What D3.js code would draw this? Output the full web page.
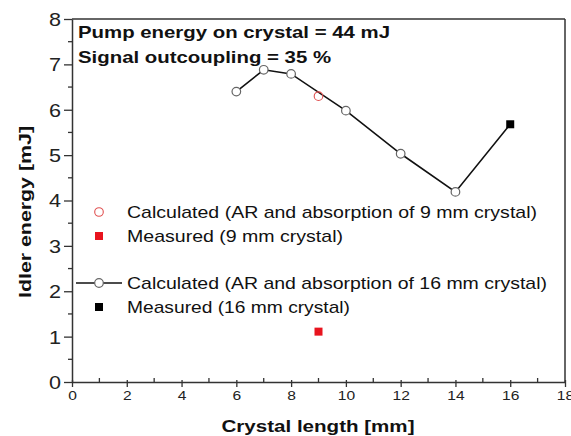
<!DOCTYPE html>
<html><head><meta charset="utf-8">
<script src="https://d3js.org/d3.v7.min.js"></script>
<style>body{margin:0;background:#fff}svg{display:block;font-family:"Liberation Sans",Arial,sans-serif}</style>
</head><body><svg id="c" width="571" height="436"></svg>
<script>
const calc16X = [6, 7, 8, 10, 12, 14, 16];
const calc16Y = [6.40, 6.88, 6.79, 5.98, 5.03, 4.19, 5.68];
const meas16X = [16];
const meas16Y = [5.68];
const calc9X = [9];
const calc9Y = [6.30];
const meas9X = [9];
const meas9Y = [1.11];
const xTicks = [0, 2, 4, 6, 8, 10, 12, 14, 16, 18];
const yTicks = [0, 1, 2, 3, 4, 5, 6, 7, 8];
const legendLabels = [
  "Calculated (AR and absorption of 9 mm crystal)",
  "Measured (9 mm crystal)",
  "Calculated (AR and absorption of 16 mm crystal)",
  "Measured (16 mm crystal)"
];
const annot = ["Pump energy on crystal = 44 mJ", "Signal outcoupling = 35 %"];

const svg = d3.select("#c");
const L = 72, R = 565, T = 19, B = 382;
const x = d3.scaleLinear().domain([0, 18]).range([L, R]);
const y = d3.scaleLinear().domain([0, 8]).range([B, T]);
const red = "#e8141e";
const SX = 1.2; // horizontal stretch of the reference's type

function stretched(sel, px, py) {
  // horizontally stretch text around its anchor point
  return sel.attr("transform", `translate(${px},${py}) scale(${SX},1)`).attr("x", 0).attr("y", 0);
}

// frame
svg.append("line").attr("x1", L).attr("x2", R).attr("y1", T).attr("y2", T).attr("stroke", "#333").attr("stroke-width", 1.5);
svg.append("line").attr("x1", R).attr("x2", R).attr("y1", T).attr("y2", B).attr("stroke", "#333").attr("stroke-width", 1.5);

// minor ticks
const gx = svg.append("g");
d3.range(1, 18, 2).forEach(v => {
  gx.append("line").attr("x1", x(v)).attr("x2", x(v)).attr("y1", B - 4).attr("y2", B).attr("stroke", "#333").attr("stroke-width", 1.3);
});
d3.range(0.5, 8, 1).forEach(v => {
  gx.append("line").attr("x1", L - 4).attr("x2", L).attr("y1", y(v)).attr("y2", y(v)).attr("stroke", "#333").attr("stroke-width", 1.3);
});

const xAxis = svg.append("g").attr("transform", `translate(0,${B})`)
  .call(d3.axisBottom(x).tickValues(xTicks).tickSize(5).tickSizeOuter(0).tickPadding(4));
xAxis.selectAll("text").attr("font-size", 13).attr("fill", "#222").attr("font-family", "Liberation Sans, Arial")
  .attr("transform", `scale(${SX},1)`).attr("x", 0).each(function(){ d3.select(this).attr("transform", `translate(0,9) scale(${SX},1) translate(0,-9)`); });
xAxis.selectAll(".tick line").attr("y1", -2).attr("stroke", "#333").attr("stroke-width", 1.3);
xAxis.select(".domain").attr("stroke", "#333").attr("stroke-width", 1.5);

const yAxis = svg.append("g").attr("transform", `translate(${L},0)`)
  .call(d3.axisLeft(y).tickValues(yTicks).tickSize(8).tickSizeOuter(0).tickPadding(3));
yAxis.selectAll("text").attr("font-size", 18).attr("fill", "#222").attr("font-family", "Liberation Sans, Arial").attr("dy", "0.36em")
  .attr("x", 0).attr("transform", `translate(-11,0) scale(${SX},1)`);
yAxis.selectAll(".tick line").attr("stroke", "#333").attr("stroke-width", 1.3);
yAxis.select(".domain").attr("stroke", "#333").attr("stroke-width", 1.5);

// axis titles
svg.append("text").attr("x", 318).attr("y", 432).attr("text-anchor", "middle")
  .attr("font-size", 17).attr("font-weight", "bold").attr("fill", "#111")
  .attr("textLength", 193).attr("lengthAdjust", "spacingAndGlyphs").text("Crystal length [mm]");
svg.append("text").attr("transform", `translate(31,212) rotate(-90)`).attr("text-anchor", "middle")
  .attr("font-size", 17).attr("font-weight", "bold").attr("fill", "#111")
  .attr("textLength", 172).attr("lengthAdjust", "spacingAndGlyphs").text("Idler energy [mJ]");

// annotations
const annotW = [312, 253];
annot.forEach((t, i) => {
  svg.append("text").attr("x", 78).attr("y", 38 + i * 25).attr("font-size", 17).attr("font-weight", "bold").attr("fill", "#111")
    .attr("textLength", annotW[i]).attr("lengthAdjust", "spacingAndGlyphs").text(t);
});

// line
const pts16 = calc16X.map((v, i) => [v, calc16Y[i]]);
svg.append("path").datum(pts16).attr("fill", "none").attr("stroke", "#111").attr("stroke-width", 1.6)
  .attr("d", d3.line().x(d => x(d[0])).y(d => y(d[1])));
svg.selectAll(".c16").data(pts16.slice(0, -1)).join("circle")
  .attr("cx", d => x(d[0])).attr("cy", d => y(d[1])).attr("r", 4.3)
  .attr("fill", "#fff").attr("stroke", "#666").attr("stroke-width", 1.2);
svg.selectAll(".m16").data(meas16X.map((v, i) => [v, meas16Y[i]])).join("rect")
  .attr("x", d => x(d[0]) - 4).attr("y", d => y(d[1]) - 4).attr("width", 8).attr("height", 8).attr("fill", "#000");
svg.selectAll(".c9").data(calc9X.map((v, i) => [v, calc9Y[i]])).join("circle")
  .attr("cx", d => x(d[0])).attr("cy", d => y(d[1])).attr("r", 4.3)
  .attr("fill", "none").attr("stroke", "#e05050").attr("stroke-width", 1.1);
svg.selectAll(".m9").data(meas9X.map((v, i) => [v, meas9Y[i]])).join("rect")
  .attr("x", d => x(d[0]) - 4).attr("y", d => y(d[1]) - 4).attr("width", 8).attr("height", 8).attr("fill", red);

// legend
const ly = [212, 236, 283, 307];
const legW = [410, 216, 420, 223];
const sx = 99, tx = 127;
legendLabels.forEach((t, i) => {
  svg.append("text").attr("x", tx).attr("y", ly[i]).attr("dy", "0.36em").attr("font-size", 17).attr("fill", "#111")
    .attr("textLength", legW[i]).attr("lengthAdjust", "spacingAndGlyphs").text(t);
});
svg.append("circle").attr("cx", sx).attr("cy", ly[0]).attr("r", 4.3).attr("fill", "none").attr("stroke", "#e05050").attr("stroke-width", 1.1);
svg.append("rect").attr("x", sx - 4).attr("y", ly[1] - 4).attr("width", 8).attr("height", 8).attr("fill", red);
svg.append("line").attr("x1", 76).attr("x2", 122).attr("y1", ly[2]).attr("y2", ly[2]).attr("stroke", "#111").attr("stroke-width", 1.6);
svg.append("circle").attr("cx", sx).attr("cy", ly[2]).attr("r", 4.3).attr("fill", "#fff").attr("stroke", "#666").attr("stroke-width", 1.2);
svg.append("rect").attr("x", sx - 4).attr("y", ly[3] - 4).attr("width", 8).attr("height", 8).attr("fill", "#000");
</script></body></html>
